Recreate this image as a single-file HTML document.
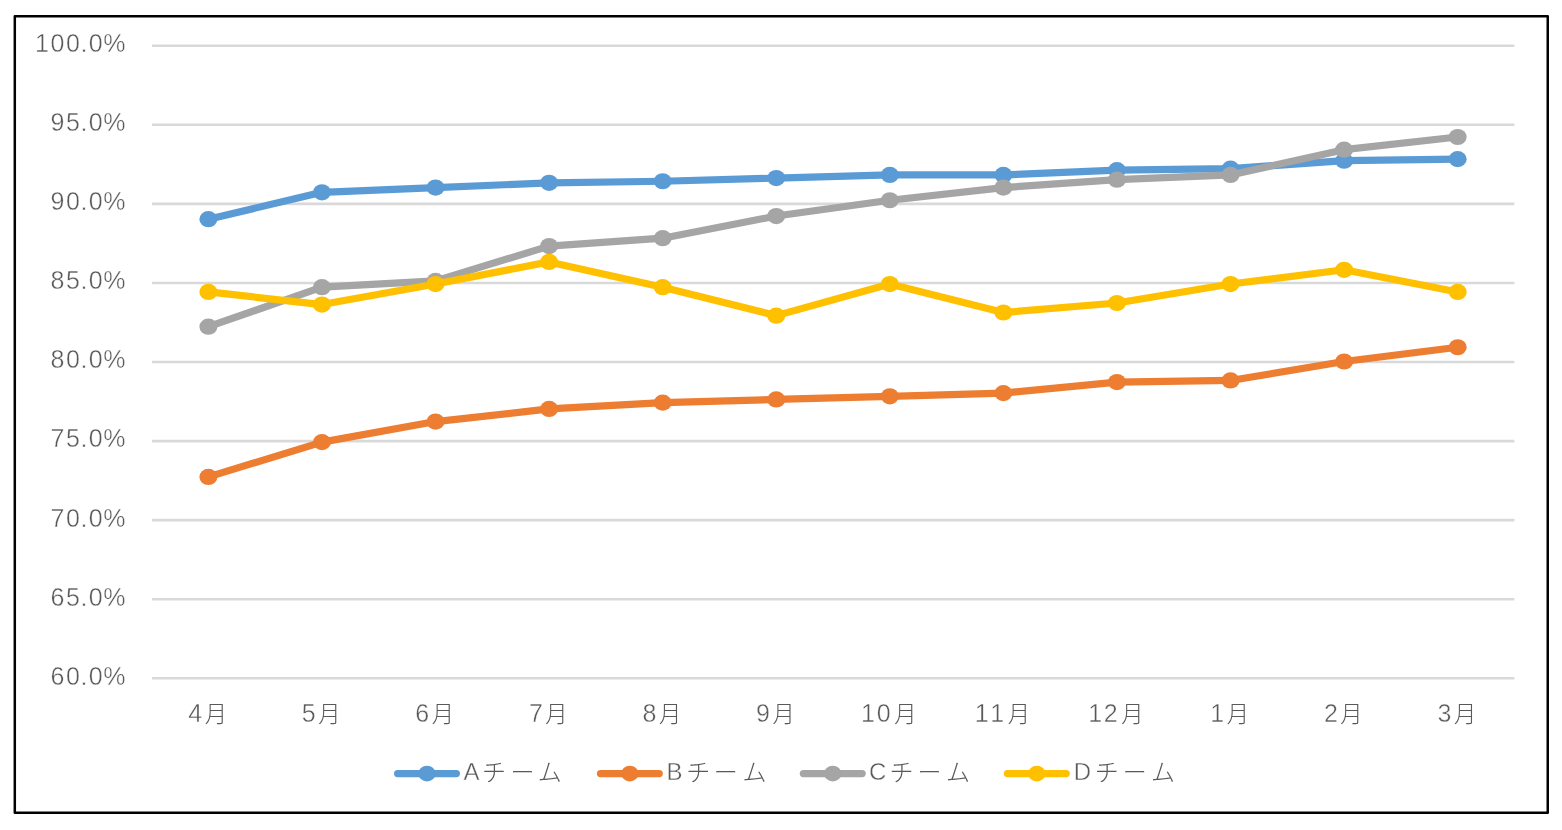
<!DOCTYPE html>
<html lang="ja">
<head>
<meta charset="utf-8">
<title>チーム別推移グラフ</title>
<style>
html,body{margin:0;padding:0;background:#fff;}
body{width:1562px;height:830px;overflow:hidden;}
svg{display:block;}
text{font-family:"Liberation Sans","Noto Sans CJK JP",sans-serif;font-size:25px;fill:#595959;font-weight:300;}
text{stroke:#ffffff;stroke-width:0.4px;stroke-linejoin:round;}
tspan{stroke:none;}
.txt{filter:grayscale(1);}
.m{font-size:22.3px;}
.lg{font-size:24px;}
.grid line{stroke:#D9D9D9;stroke-width:2.6;}
.s{fill:none;stroke-width:7.2;stroke-linecap:round;stroke-linejoin:round;}
</style>
</head>
<body>
<svg width="1562" height="830" viewBox="0 0 1562 830">
<rect x="0" y="0" width="1562" height="830" fill="#ffffff"/>
<rect x="14.8" y="16.3" width="1532.95" height="796.45" fill="#ffffff" stroke="#000000" stroke-width="2.5" stroke-linejoin="round"/>

<g class="grid">
<line x1="152.0" y1="45.75" x2="1514.4" y2="45.75"/>
<line x1="152.0" y1="124.82" x2="1514.4" y2="124.82"/>
<line x1="152.0" y1="203.89" x2="1514.4" y2="203.89"/>
<line x1="152.0" y1="282.96" x2="1514.4" y2="282.96"/>
<line x1="152.0" y1="362.03" x2="1514.4" y2="362.03"/>
<line x1="152.0" y1="441.10" x2="1514.4" y2="441.10"/>
<line x1="152.0" y1="520.17" x2="1514.4" y2="520.17"/>
<line x1="152.0" y1="599.24" x2="1514.4" y2="599.24"/>
<line x1="152.0" y1="678.31" x2="1514.4" y2="678.31"/>
</g>
<g class="txt">
<g class="ylab">
<text x="34.9 50.5 65.9 80.6 88.7 103.2" y="51.80">100.0%</text>
<text x="50.6 65.9 80.6 88.7 103.2" y="130.92">95.0%</text>
<text x="50.6 65.9 80.6 88.7 103.2" y="210.04">90.0%</text>
<text x="50.6 65.9 80.6 88.7 103.2" y="289.16">85.0%</text>
<text x="50.6 65.9 80.6 88.7 103.2" y="368.28">80.0%</text>
<text x="50.6 65.9 80.6 88.7 103.2" y="447.40">75.0%</text>
<text x="50.6 65.9 80.6 88.7 103.2" y="526.52">70.0%</text>
<text x="50.6 65.9 80.6 88.7 103.2" y="605.64">65.0%</text>
<text x="50.6 65.9 80.6 88.7 103.2" y="684.76">60.0%</text>
</g>
<g class="xlab">
<text y="721.7" x="188.20">4<tspan class="m" x="204.65" y="721.5">月</tspan></text>
<text y="721.7" x="301.77">5<tspan class="m" x="318.22" y="721.5">月</tspan></text>
<text y="721.7" x="415.34">6<tspan class="m" x="431.79" y="721.5">月</tspan></text>
<text y="721.7" x="528.91">7<tspan class="m" x="545.36" y="721.5">月</tspan></text>
<text y="721.7" x="642.48">8<tspan class="m" x="658.93" y="721.5">月</tspan></text>
<text y="721.7" x="756.05">9<tspan class="m" x="772.50" y="721.5">月</tspan></text>
<text y="721.7" x="861.12 876.67">10<tspan class="m" x="894.17" y="721.5">月</tspan></text>
<text y="721.7" x="974.69 990.24">11<tspan class="m" x="1007.74" y="721.5">月</tspan></text>
<text y="721.7" x="1088.26 1103.81">12<tspan class="m" x="1121.31" y="721.5">月</tspan></text>
<text y="721.7" x="1210.33">1<tspan class="m" x="1226.78" y="721.5">月</tspan></text>
<text y="721.7" x="1323.90">2<tspan class="m" x="1340.35" y="721.5">月</tspan></text>
<text y="721.7" x="1437.47">3<tspan class="m" x="1453.92" y="721.5">月</tspan></text>
</g>
</g>
<g fill="#5B9BD5" stroke="#5B9BD5">
<polyline class="s" points="208.40,219.21 321.97,192.33 435.54,187.59 549.11,182.85 662.68,181.27 776.25,178.10 889.82,174.94 1003.39,174.94 1116.96,170.20 1230.53,168.62 1344.10,160.71 1457.67,159.13"/>
<ellipse cx="208.40" cy="219.21" rx="9" ry="8.1" stroke="none"/>
<ellipse cx="321.97" cy="192.33" rx="9" ry="8.1" stroke="none"/>
<ellipse cx="435.54" cy="187.59" rx="9" ry="8.1" stroke="none"/>
<ellipse cx="549.11" cy="182.85" rx="9" ry="8.1" stroke="none"/>
<ellipse cx="662.68" cy="181.27" rx="9" ry="8.1" stroke="none"/>
<ellipse cx="776.25" cy="178.10" rx="9" ry="8.1" stroke="none"/>
<ellipse cx="889.82" cy="174.94" rx="9" ry="8.1" stroke="none"/>
<ellipse cx="1003.39" cy="174.94" rx="9" ry="8.1" stroke="none"/>
<ellipse cx="1116.96" cy="170.20" rx="9" ry="8.1" stroke="none"/>
<ellipse cx="1230.53" cy="168.62" rx="9" ry="8.1" stroke="none"/>
<ellipse cx="1344.10" cy="160.71" rx="9" ry="8.1" stroke="none"/>
<ellipse cx="1457.67" cy="159.13" rx="9" ry="8.1" stroke="none"/>
</g>
<g fill="#ED7D31" stroke="#ED7D31">
<polyline class="s" points="208.40,476.91 321.97,442.13 435.54,421.58 549.11,408.93 662.68,402.61 776.25,399.44 889.82,396.28 1003.39,393.12 1116.96,382.05 1230.53,380.47 1344.10,361.50 1457.67,347.27"/>
<ellipse cx="208.40" cy="476.91" rx="9" ry="8.1" stroke="none"/>
<ellipse cx="321.97" cy="442.13" rx="9" ry="8.1" stroke="none"/>
<ellipse cx="435.54" cy="421.58" rx="9" ry="8.1" stroke="none"/>
<ellipse cx="549.11" cy="408.93" rx="9" ry="8.1" stroke="none"/>
<ellipse cx="662.68" cy="402.61" rx="9" ry="8.1" stroke="none"/>
<ellipse cx="776.25" cy="399.44" rx="9" ry="8.1" stroke="none"/>
<ellipse cx="889.82" cy="396.28" rx="9" ry="8.1" stroke="none"/>
<ellipse cx="1003.39" cy="393.12" rx="9" ry="8.1" stroke="none"/>
<ellipse cx="1116.96" cy="382.05" rx="9" ry="8.1" stroke="none"/>
<ellipse cx="1230.53" cy="380.47" rx="9" ry="8.1" stroke="none"/>
<ellipse cx="1344.10" cy="361.50" rx="9" ry="8.1" stroke="none"/>
<ellipse cx="1457.67" cy="347.27" rx="9" ry="8.1" stroke="none"/>
</g>
<g fill="#A5A5A5" stroke="#A5A5A5">
<polyline class="s" points="208.40,326.72 321.97,287.19 435.54,280.87 549.11,246.09 662.68,238.18 776.25,216.05 889.82,200.24 1003.39,187.59 1116.96,179.69 1230.53,174.94 1344.10,149.65 1457.67,137.00"/>
<ellipse cx="208.40" cy="326.72" rx="9" ry="8.1" stroke="none"/>
<ellipse cx="321.97" cy="287.19" rx="9" ry="8.1" stroke="none"/>
<ellipse cx="435.54" cy="280.87" rx="9" ry="8.1" stroke="none"/>
<ellipse cx="549.11" cy="246.09" rx="9" ry="8.1" stroke="none"/>
<ellipse cx="662.68" cy="238.18" rx="9" ry="8.1" stroke="none"/>
<ellipse cx="776.25" cy="216.05" rx="9" ry="8.1" stroke="none"/>
<ellipse cx="889.82" cy="200.24" rx="9" ry="8.1" stroke="none"/>
<ellipse cx="1003.39" cy="187.59" rx="9" ry="8.1" stroke="none"/>
<ellipse cx="1116.96" cy="179.69" rx="9" ry="8.1" stroke="none"/>
<ellipse cx="1230.53" cy="174.94" rx="9" ry="8.1" stroke="none"/>
<ellipse cx="1344.10" cy="149.65" rx="9" ry="8.1" stroke="none"/>
<ellipse cx="1457.67" cy="137.00" rx="9" ry="8.1" stroke="none"/>
</g>
<g fill="#FFC000" stroke="#FFC000">
<polyline class="s" points="208.40,291.94 321.97,304.58 435.54,284.03 549.11,261.90 662.68,287.19 776.25,315.65 889.82,284.03 1003.39,312.49 1116.96,303.00 1230.53,284.03 1344.10,269.80 1457.67,291.94"/>
<ellipse cx="208.40" cy="291.94" rx="9" ry="8.1" stroke="none"/>
<ellipse cx="321.97" cy="304.58" rx="9" ry="8.1" stroke="none"/>
<ellipse cx="435.54" cy="284.03" rx="9" ry="8.1" stroke="none"/>
<ellipse cx="549.11" cy="261.90" rx="9" ry="8.1" stroke="none"/>
<ellipse cx="662.68" cy="287.19" rx="9" ry="8.1" stroke="none"/>
<ellipse cx="776.25" cy="315.65" rx="9" ry="8.1" stroke="none"/>
<ellipse cx="889.82" cy="284.03" rx="9" ry="8.1" stroke="none"/>
<ellipse cx="1003.39" cy="312.49" rx="9" ry="8.1" stroke="none"/>
<ellipse cx="1116.96" cy="303.00" rx="9" ry="8.1" stroke="none"/>
<ellipse cx="1230.53" cy="284.03" rx="9" ry="8.1" stroke="none"/>
<ellipse cx="1344.10" cy="269.80" rx="9" ry="8.1" stroke="none"/>
<ellipse cx="1457.67" cy="291.94" rx="9" ry="8.1" stroke="none"/>
</g>
<g fill="#5B9BD5" stroke="#5B9BD5"><line class="s" style="stroke-width:7.4" x1="397.70" y1="773.6" x2="456.30" y2="773.6"/><ellipse cx="427.0" cy="773.55" rx="8.7" ry="7.85" stroke="none"/></g>
<g fill="#ED7D31" stroke="#ED7D31"><line class="s" style="stroke-width:7.4" x1="600.55" y1="773.6" x2="659.15" y2="773.6"/><ellipse cx="629.85" cy="773.55" rx="8.7" ry="7.85" stroke="none"/></g>
<g fill="#A5A5A5" stroke="#A5A5A5"><line class="s" style="stroke-width:7.4" x1="803.45" y1="773.6" x2="862.05" y2="773.6"/><ellipse cx="832.75" cy="773.55" rx="8.7" ry="7.85" stroke="none"/></g>
<g fill="#FFC000" stroke="#FFC000"><line class="s" style="stroke-width:7.4" x1="1007.55" y1="773.6" x2="1066.15" y2="773.6"/><ellipse cx="1036.85" cy="773.55" rx="8.7" ry="7.85" stroke="none"/></g>
<g class="txt legend">
<text class="lg" x="463.6" y="780.3">A<tspan x="481.95 510.5 537.85" y="781">チーム</tspan></text>
<text class="lg" x="666.6" y="780.3">B<tspan x="686.3 713.8 742.6" y="781">チーム</tspan></text>
<text class="lg" x="869.1" y="780.3">C<tspan x="889.6 917.6 946.1" y="781">チーム</tspan></text>
<text class="lg" x="1073.8" y="780.3">D<tspan x="1094.7 1122.8 1151.1" y="781">チーム</tspan></text>
</g>
</svg>
</body>
</html>
